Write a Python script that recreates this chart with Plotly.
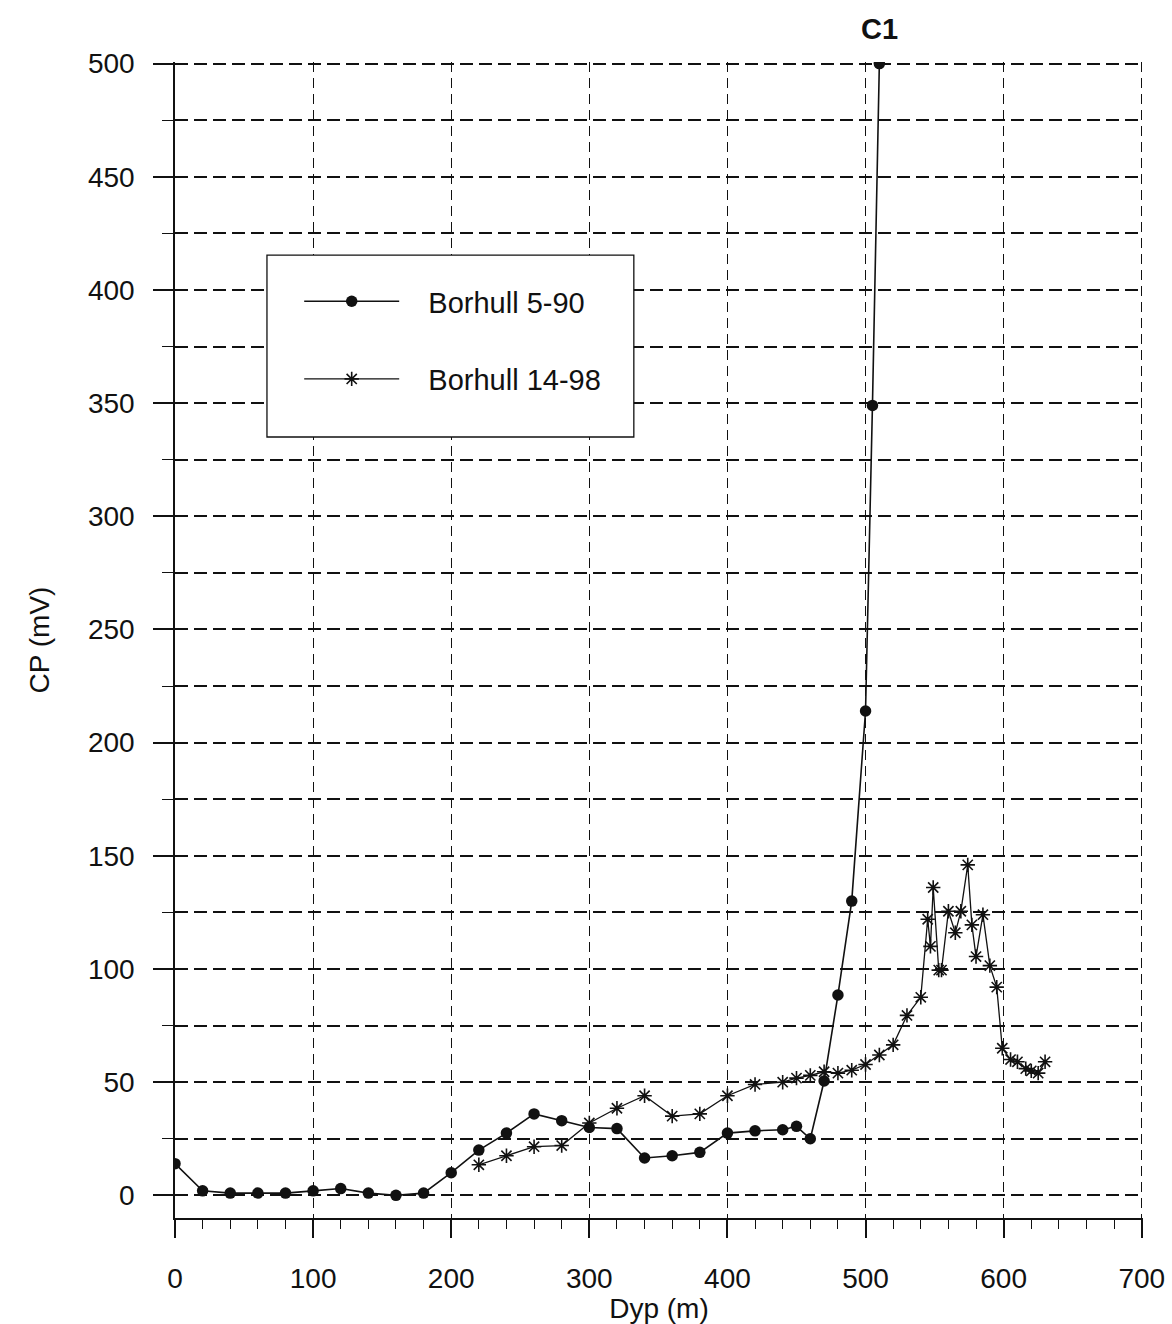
import plotly.graph_objects as go

# Borehole 5-90: depth (m) and self-potential CP (mV)
depth_5_90 = [0, 20, 40, 60, 80, 100, 120, 140, 160, 180, 200, 220, 240, 260, 280,
              300, 320, 340, 360, 380, 400, 420, 440, 450, 460, 470, 480, 490,
              500, 505, 510]
cp_5_90 = [14, 2, 1, 1, 1, 2, 3, 1, 0, 1, 10, 20, 27.5, 36, 33,
           30, 29.5, 16.5, 17.5, 19, 27.5, 28.5, 29, 30.5, 25, 50.5, 88.5, 130,
           214, 349, 500]

# Borehole 14-98
depth_14_98 = [220, 240, 260, 280, 300, 320, 340, 360, 380, 400, 420, 440, 450, 460,
               470, 480, 490, 500, 510, 520, 530, 540, 545, 547, 549, 553, 555, 560,
               565, 569, 574, 577, 580, 585, 590, 595, 599, 605, 610, 616, 620, 625,
               630]
cp_14_98 = [13.5, 17.5, 21.5, 22, 32, 38.5, 44, 35, 36, 44, 49, 50, 51.8, 53,
            54.6, 54, 55.3, 57.8, 62, 66.5, 79.5, 87.5, 122, 110, 136, 99.5, 99.5, 125.5,
            116, 125.5, 146, 119.5, 105.5, 124, 101.5, 92, 65, 60, 59, 56, 55, 54,
            59]

series_names = ["Borhull 5-90", "Borhull 14-98"]
peak_label = "C1"

FONT = "Liberation Sans, Arial, sans-serif"
INK = "#111111"
GAP = "\u00a0" * 3  # gap between legend key and label

fig = go.Figure()
fig.add_trace(go.Scatter(
    x=depth_5_90, y=cp_5_90, mode="lines+markers", name=GAP + series_names[0],
    legendgroup="a",
    line=dict(color=INK, width=1.6),
    marker=dict(symbol="circle", size=11.5, color=INK),
))
fig.add_trace(go.Scatter(
    x=depth_14_98, y=cp_14_98, mode="lines+markers", name=GAP + series_names[1],
    legendgroup="b",
    line=dict(color=INK, width=1.3),
    marker=dict(symbol="asterisk-open", size=12, line=dict(color=INK, width=1.6)),
))

# peak label above the last point of borehole 5-90
fig.add_annotation(
    x=depth_5_90[-1], y=cp_5_90[-1], text="<b>%s</b>" % peak_label,
    showarrow=False, yanchor="bottom", yshift=17,
    font=dict(family=FONT, size=29, color=INK),
)

# framed white panel behind the legend entries
fig.add_shape(
    type="rect", xref="paper", yref="paper", layer="above",
    x0=0.095, x1=0.474, y0=0.6756, y1=0.833,
    line=dict(color=INK, width=1.3), fillcolor="white",
)

fig.update_layout(
    width=1172, height=1324,
    margin=dict(l=175, r=29, t=62, b=106),
    paper_bgcolor="white", plot_bgcolor="white",
    font=dict(family=FONT, color=INK),
    showlegend=True,
    legend=dict(
        x=0.1283, y=0.815, xanchor="left", yanchor="top",
        bgcolor="rgba(0,0,0,0)", borderwidth=0,
        font=dict(family=FONT, size=29, color=INK),
        itemwidth=95, traceorder="grouped", tracegroupgap=37,
    ),
)

fig.update_xaxes(
    range=[0, 700.9], tick0=0, dtick=100, automargin=False,
    showline=True, linecolor=INK, linewidth=1.5,
    ticks="outside", ticklen=18, tickcolor=INK, tickwidth=1.5,
    tickfont=dict(family=FONT, size=28, color=INK), ticklabelstandoff=17,
    showgrid=True, gridcolor=INK, gridwidth=1.4, griddash="10px,6px",
    zeroline=False,
    minor=dict(dtick=20, ticks="outside", ticklen=9, tickcolor=INK, tickwidth=1.2, showgrid=False),
    title=dict(text="Dyp (m)", font=dict(family=FONT, size=28, color=INK), standoff=0),
)
fig.update_yaxes(
    range=[-10, 500.7], tick0=0, dtick=50, automargin=False,
    showline=True, linecolor=INK, linewidth=1.5,
    ticks="outside", ticklen=20, tickcolor=INK, tickwidth=1.5,
    tickfont=dict(family=FONT, size=28, color=INK), ticklabelstandoff=13,
    showgrid=True, gridcolor=INK, gridwidth=1.8, griddash="13px,6px",
    zeroline=False,
    minor=dict(dtick=25, ticks="outside", ticklen=11, tickcolor=INK, tickwidth=1.2,
               showgrid=True, gridcolor=INK, gridwidth=1.8, griddash="13px,6px"),
    title=dict(text="CP (mV)", font=dict(family=FONT, size=28, color=INK), standoff=30),
)

fig.write_html("out.html")
